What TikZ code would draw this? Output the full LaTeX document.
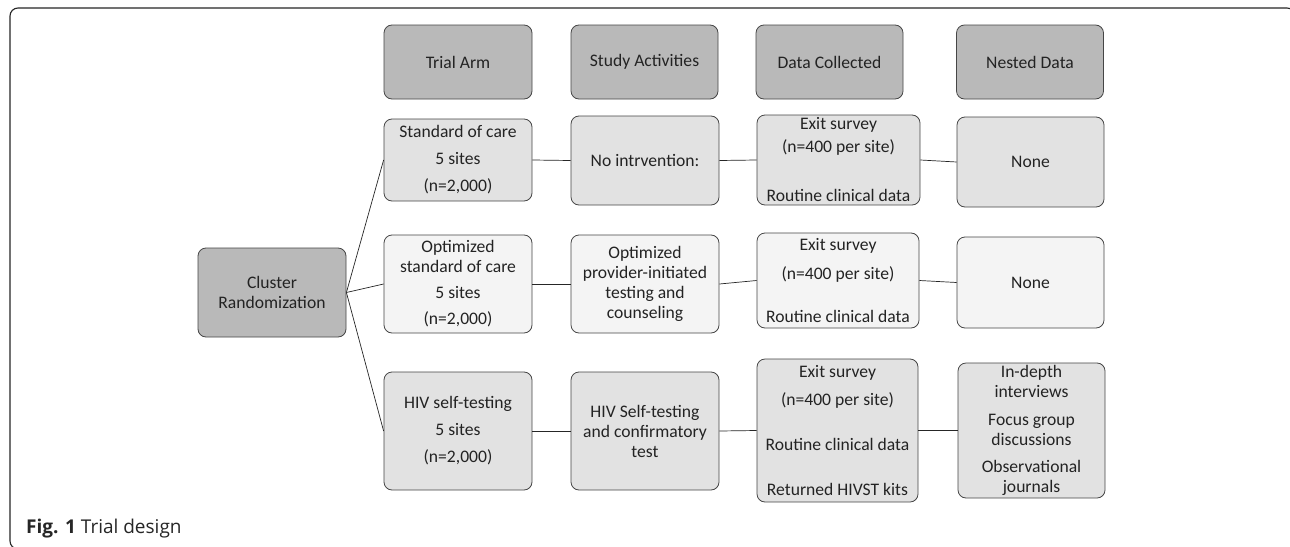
\documentclass[tikz,border=0pt]{standalone}
\usepackage{fontspec}
\setmainfont{Carlito}
\newfontfamily\capfont{Open Sans}
\definecolor{hdrgray}{RGB}{185,185,185}
\definecolor{midgray}{RGB}{226,226,226}
\definecolor{lightgray2}{RGB}{244,244,244}
\definecolor{edgegray}{RGB}{70,70,70}
\definecolor{txtgray}{RGB}{35,35,35}
\begin{document}
\begin{tikzpicture}[x=1pt,y=-1pt,
  every node/.style={font=\fontsize{17.6}{20}\selectfont, text=txtgray},
  boxbase/.style={draw=edgegray, line width=0.8pt, rounded corners=8pt, inner sep=0pt, align=center},
  hdr/.style={boxbase, fill=hdrgray},
  rowmid/.style={boxbase, fill=midgray},
  rowlight/.style={boxbase, fill=lightgray2},
  link/.style={draw=black!85, line width=0.7pt}]
\useasboundingbox (0,0) rectangle (1290,546);
\fill[white] (0,0) rectangle (1290,546);
\draw[line width=1.1pt, rounded corners=8pt, black!85] (10,8) rectangle (1295,549);

% headers
\node[hdr, minimum width=148pt, minimum height=74pt] (h1) at (458,62) {Trial Arm};
\node[hdr, minimum width=147pt, minimum height=74pt] (h2) at (644.5,62) {Study Activities};
\node[hdr, minimum width=147pt, minimum height=74pt] (h3) at (829.5,62) {Data Collected};
\node[hdr, minimum width=147pt, minimum height=74pt] (h4) at (1030,62) {Nested Data};

% cluster
\node[hdr, minimum width=148pt, minimum height=89pt] (c) at (272,292.5) {Cluster\\Randomization};

% row 1
\node[rowmid, minimum width=148pt, minimum height=82pt] (a1) at (458,160) {Standard of care\\[7pt]5 sites\\[7pt](n=2,000)};
\node[rowmid, minimum width=148pt, minimum height=89pt] (s1) at (645,160.5) {No intrvention:};
\node[rowmid, minimum width=163pt, minimum height=90pt] (d1) at (838.5,160) {Exit survey\\[3pt](n=400 per site)\\[29pt]Routine clinical data};
\node[rowmid, minimum width=147pt, minimum height=90pt] (n1) at (1030.5,162) {None};

% row 2
\node[rowlight, minimum width=148pt, minimum height=98pt] (a2) at (458,284) {Optimized\\standard of care\\[6pt]5 sites\\[6pt](n=2,000)};
\node[rowlight, minimum width=148pt, minimum height=98pt] (s2) at (645,284) {Optimized\\provider-initiated\\testing and\\counseling};
\node[rowlight, minimum width=162pt, minimum height=95pt] (d2) at (838,280.5) {Exit survey\\[9pt](n=400 per site)\\[23pt]Routine clinical data};
\node[rowlight, minimum width=147pt, minimum height=91pt] (n2) at (1030.5,282.5) {None};

% row 3
\node[rowmid, minimum width=148pt, minimum height=118pt] (a3) at (458,431) {HIV self-testing\\[7pt]5 sites\\[7pt](n=2,000)};
\node[rowmid, minimum width=148pt, minimum height=118pt] (s3) at (645,431) {HIV Self-testing\\and confirmatory\\test};
\node[rowmid, minimum width=161pt, minimum height=143pt] (d3) at (837.5,430.5) {Exit survey\\[8pt](n=400 per site)\\[25pt]Routine clinical data\\[25pt]Returned HIVST kits};
\node[rowmid, minimum width=147pt, minimum height=135pt] (n3) at (1031.5,430.5) {In-depth\\interviews\\[8pt]Focus group\\discussions\\[7pt]Observational\\journals};

% connectors
\draw[link] (c.east) -- (a1.west);
\draw[link] (c.east) -- (a2.west);
\draw[link] (c.east) -- (a3.west);
\draw[link] (a1.east) -- (s1.west);
\draw[link] (s1.east) -- (d1.west);
\draw[link] (d1.east) -- (n1.west);
\draw[link] (a2.east) -- (s2.west);
\draw[link] (s2.east) -- (d2.west);
\draw[link] (d2.east) -- (n2.west);
\draw[link] (a3.east) -- (s3.west);
\draw[link] (s3.east) -- (d3.west);
\draw[link] (d3.east) -- (n3.west);

% caption
\node[anchor=base west, inner sep=0pt, font=\capfont\fontsize{19}{23}\selectfont, text=black!85] (cap) at (26,533) {\textbf{Fig. 1} Trial design};
\end{tikzpicture}
\end{document}
